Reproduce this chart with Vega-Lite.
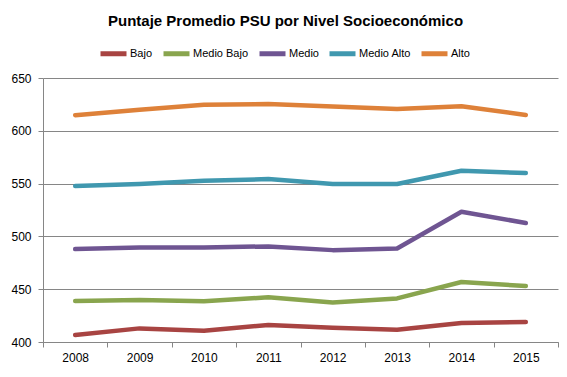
{
  "$schema": "https://vega.github.io/schema/vega-lite/v6.json",
  "autosize": {"type": "none"},
  "width": 515,
  "height": 264,
  "padding": {"left": 43, "top": 78, "right": 9, "bottom": 35},
  "background": "white",
  "title": {
    "text": "Puntaje Promedio PSU por Nivel Socioeconómico",
    "font": "Liberation Sans",
    "fontSize": 15,
    "fontWeight": "bold",
    "color": "#000000",
    "anchor": "middle",
    "dx": -15,
    "offset": 9
  },
  "config": {
    "view": {"stroke": null},
    "axis": {"labelFont": "Liberation Sans", "labelFontSize": 12, "labelColor": "#000000", "domainColor": "#868686", "tickColor": "#868686", "gridColor": "#868686", "title": null}
  },
  "data": {
    "values": [
      {"year": "2008", "nivel": "Bajo", "puntaje": 406.6},
      {"year": "2009", "nivel": "Bajo", "puntaje": 412.9},
      {"year": "2010", "nivel": "Bajo", "puntaje": 410.7},
      {"year": "2011", "nivel": "Bajo", "puntaje": 416.1},
      {"year": "2012", "nivel": "Bajo", "puntaje": 413.5},
      {"year": "2013", "nivel": "Bajo", "puntaje": 411.6},
      {"year": "2014", "nivel": "Bajo", "puntaje": 418.0},
      {"year": "2015", "nivel": "Bajo", "puntaje": 419.0},
      {"year": "2008", "nivel": "Medio Bajo", "puntaje": 438.8},
      {"year": "2009", "nivel": "Medio Bajo", "puntaje": 439.8},
      {"year": "2010", "nivel": "Medio Bajo", "puntaje": 438.5},
      {"year": "2011", "nivel": "Medio Bajo", "puntaje": 442.3},
      {"year": "2012", "nivel": "Medio Bajo", "puntaje": 437.5},
      {"year": "2013", "nivel": "Medio Bajo", "puntaje": 441.3},
      {"year": "2014", "nivel": "Medio Bajo", "puntaje": 456.8},
      {"year": "2015", "nivel": "Medio Bajo", "puntaje": 453.0},
      {"year": "2008", "nivel": "Medio", "puntaje": 488.0},
      {"year": "2009", "nivel": "Medio", "puntaje": 489.6},
      {"year": "2010", "nivel": "Medio", "puntaje": 489.6},
      {"year": "2011", "nivel": "Medio", "puntaje": 490.5},
      {"year": "2012", "nivel": "Medio", "puntaje": 487.0},
      {"year": "2013", "nivel": "Medio", "puntaje": 488.6},
      {"year": "2014", "nivel": "Medio", "puntaje": 523.4},
      {"year": "2015", "nivel": "Medio", "puntaje": 512.7},
      {"year": "2008", "nivel": "Medio Alto", "puntaje": 547.7},
      {"year": "2009", "nivel": "Medio Alto", "puntaje": 549.6},
      {"year": "2010", "nivel": "Medio Alto", "puntaje": 552.7},
      {"year": "2011", "nivel": "Medio Alto", "puntaje": 554.3},
      {"year": "2012", "nivel": "Medio Alto", "puntaje": 549.6},
      {"year": "2013", "nivel": "Medio Alto", "puntaje": 549.6},
      {"year": "2014", "nivel": "Medio Alto", "puntaje": 562.2},
      {"year": "2015", "nivel": "Medio Alto", "puntaje": 560.0},
      {"year": "2008", "nivel": "Alto", "puntaje": 614.8},
      {"year": "2009", "nivel": "Alto", "puntaje": 620.0},
      {"year": "2010", "nivel": "Alto", "puntaje": 624.6},
      {"year": "2011", "nivel": "Alto", "puntaje": 625.4},
      {"year": "2012", "nivel": "Alto", "puntaje": 623.0},
      {"year": "2013", "nivel": "Alto", "puntaje": 620.6},
      {"year": "2014", "nivel": "Alto", "puntaje": 623.2},
      {"year": "2015", "nivel": "Alto", "puntaje": 615.0}
    ]
  },
  "mark": {"type": "line", "strokeWidth": 4.5, "strokeCap": "round", "strokeJoin": "round", "interpolate": "linear"},
  "encoding": {
    "x": {
      "field": "year",
      "type": "ordinal",
      "bandPosition": 0.5,
      "scale": {"type": "band", "paddingInner": 0, "paddingOuter": 0},
      "axis": {"tickBand": "extent", "labelAngle": 0, "tickSize": 5, "labelPadding": 5, "grid": false, "domainWidth": 1}
    },
    "y": {
      "field": "puntaje",
      "type": "quantitative",
      "scale": {"domain": [400, 650], "nice": false, "zero": false},
      "axis": {"values": [400, 450, 500, 550, 600, 650], "tickSize": 5, "labelPadding": 7, "grid": true, "gridWidth": 1}
    },
    "color": {
      "field": "nivel",
      "type": "nominal",
      "sort": ["Bajo", "Medio Bajo", "Medio", "Medio Alto", "Alto"],
      "scale": {"domain": ["Bajo", "Medio Bajo", "Medio", "Medio Alto", "Alto"], "range": ["#A84442", "#89A54E", "#6F5592", "#4098AF", "#DE8139"]},
      "legend": {
        "title": null,
        "orient": "none",
        "direction": "horizontal",
        "legendX": 55,
        "legendY": -40,
        "symbolType": "stroke",
        "symbolSize": 676,
        "symbolStrokeWidth": 5,
        "labelFont": "Liberation Sans",
        "labelFontSize": 11,
        "labelColor": "#000000",
        "labelOffset": 1,
        "columnPadding": 0
      }
    }
  }
}
